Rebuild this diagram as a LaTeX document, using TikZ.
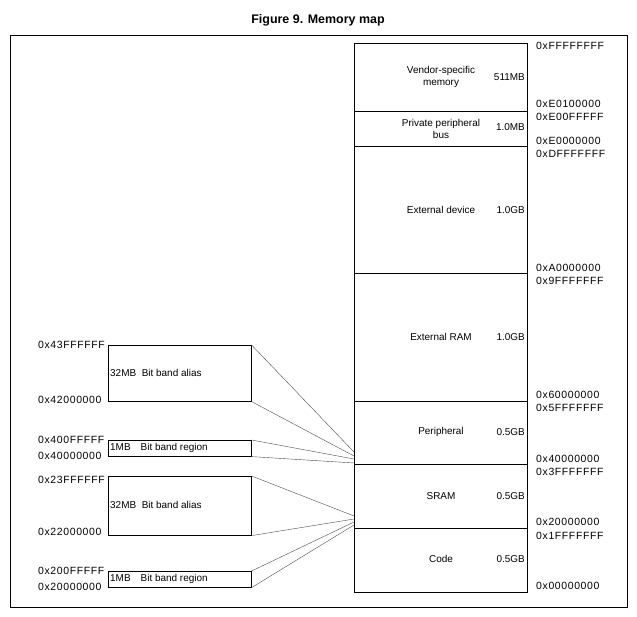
\documentclass[tikz,border=0pt]{standalone}
\usepackage{fontspec}
\setmainfont{Liberation Sans}
\usetikzlibrary{positioning}

\begin{document}
\begin{tikzpicture}[x=1bp, y=-1bp,
  region/.style={draw, semithick, minimum width=173bp, inner sep=0pt},
  band/.style={draw, semithick, minimum width=143bp, inner sep=0pt},
  bandtxt/.style={anchor=west, inner sep=0pt, font=\fontsize{10}{11}\selectfont},
  addr/.style={anchor=west, inner sep=0pt, font=\fontsize{10.5}{11}\selectfont\addfontfeature{LetterSpace=6}},
  lbl/.style={font=\fontsize{10}{11.5}\selectfont, align=center, inner sep=0pt},
  link/.style={draw, thin, black!70}
]
  \useasboundingbox (0,0) rectangle (637,617);
  \node[font=\bfseries\fontsize{12.5}{14}\selectfont] (title) at (318,20) {Figure 9. Memory map};
  \draw (10,35) rectangle (627,607);

  % memory column
  \foreach \nm/\ya/\yb in {vendor/43/111, ppb/111/146, extdev/146/273, extram/273/401,
                           periph/401/464, sram/464/528, code/528/592}
    \node[region, minimum height={\yb-\ya}, anchor=north west] (\nm) at (354,\ya) {};

  \node[lbl] at (441,77) {Vendor-specific\\memory};
  \node[lbl] at (441,129) {Private peripheral\\bus};
  \node[lbl] at (441,210) {External device};
  \node[lbl] at (441,337) {External RAM};
  \node[lbl] at (441,432) {Peripheral};
  \node[lbl] at (441,496) {SRAM};
  \node[lbl] at (441,559) {Code};
  \foreach \y/\s in {77/511MB, 127/1.0MB, 210/1.0GB, 337/1.0GB, 432/0.5GB, 496/0.5GB, 559/0.5GB}
    \node[lbl, anchor=east] at (525,\y) {\s};

  % right addresses
  \foreach \y/\a in {46/0xFFFFFFFF, 104/0xE0100000, 117/0xE00FFFFF, 141/0xE0000000, 154/0xDFFFFFFF,
                     268/0xA0000000, 281/0x9FFFFFFF, 395/0x60000000, 408/0x5FFFFFFF,
                     459/0x40000000, 472/0x3FFFFFFF, 522/0x20000000, 536/0x1FFFFFFF, 586/0x00000000}
    \node[addr] at (536,\y) {\a};

  % bit band boxes
  \node[band, minimum height=56bp, anchor=north west] (aliashi) at (108,345) {};
  \node[bandtxt] at (110,373) {32MB\ \ Bit band alias};
  \node[band, minimum height=16bp, anchor=north west] (regionhi) at (108,440) {};
  \node[bandtxt] at (110,448) {1MB\quad Bit band region};
  \node[band, minimum height=59bp, anchor=north west] (aliaslo) at (108,476) {};
  \node[bandtxt] at (110,505) {32MB\ \ Bit band alias};
  \node[band, minimum height=16bp, anchor=north west] (regionlo) at (108,571) {};
  \node[bandtxt] at (110,579) {1MB\quad Bit band region};

  % left addresses
  \foreach \y/\a in {345/0x43FFFFFF, 400/0x42000000, 440/0x400FFFFF, 456/0x40000000,
                     480/0x23FFFFFF, 532/0x22000000, 571/0x200FFFFF, 587/0x20000000}
    \node[addr] at (38,\y) {\a};

  % connectors
  \coordinate (p1) at (354,452); \coordinate (p2) at (354,456);
  \coordinate (p3) at (354,459); \coordinate (p4) at (354,463);
  \coordinate (s1) at (354,516); \coordinate (s2) at (354,519);
  \coordinate (s3) at (354,522); \coordinate (s4) at (354,525);
  \draw[link] (aliashi.north east) -- (p1);
  \draw[link] (aliashi.south east) -- (p2);
  \draw[link] (regionhi.north east) -- (p3);
  \draw[link] (regionhi.south east) -- (p4);
  \draw[link] (aliaslo.north east) -- (s1);
  \draw[link] (aliaslo.south east) -- (s2);
  \draw[link] (regionlo.north east) -- (s3);
  \draw[link] (regionlo.south east) -- (s4);
\end{tikzpicture}
\end{document}
